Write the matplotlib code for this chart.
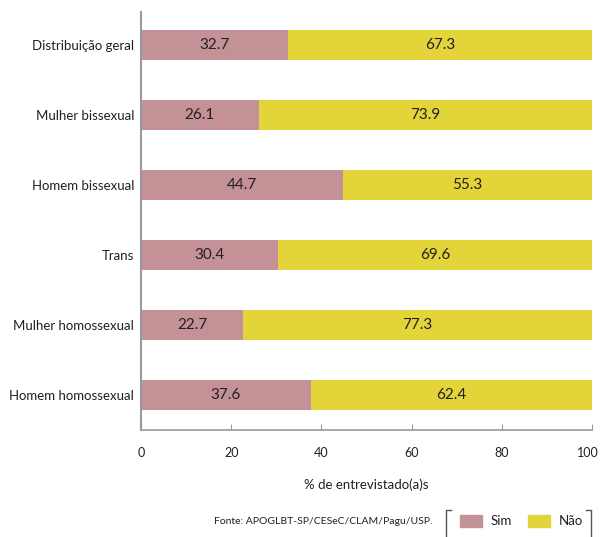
import matplotlib
matplotlib.use("Agg")
import matplotlib.pyplot as plt
import matplotlib.transforms as mtransforms
from matplotlib.patches import Rectangle
from matplotlib.lines import Line2D

plt.rcParams['font.family'] = ['Lato', 'DejaVu Sans']

# data
groups = ["Homem homossexual", "Mulher homossexual", "Trans",
          "Homem bissexual", "Mulher bissexual", "Distribuição geral"]
sim = [37.6, 22.7, 30.4, 44.7, 26.1, 32.7]
nao = [62.4, 77.3, 69.6, 55.3, 73.9, 67.3]
xticks = [0, 20, 40, 60, 80, 100]
legend_labels = ['Sim', 'Não']

c_sim = '#C49196'
c_nao = '#E3D43A'
gray = '#9A9A9A'
txt = '#231F20'

W, H = 601, 537
fig = plt.figure(figsize=(W / 100, H / 100), dpi=100)
ax = fig.add_axes([0.2346, 0.1993, 0.7504, 0.7784])

ypos = range(len(groups))
ax.barh(ypos, sim, height=0.43, color=c_sim)
ax.barh(ypos, nao, left=sim, height=0.43, color=c_nao)

for y, s, n in zip(ypos, sim, nao):
    ax.text(s / 2, y, f"{s:.1f}", ha='center', va='center', fontsize=11, color=txt)
    ax.text(s + n / 2, y, f"{n:.1f}", ha='center', va='center', fontsize=11, color=txt)

ax.set_xlim(0, 100)
ax.set_ylim(-0.5, 5.47)
ax.set_yticks(list(ypos))
ax.set_yticklabels(groups, fontsize=9.5, color=txt)
ax.set_xticks(xticks)
ax.set_xticklabels([str(t) for t in xticks], fontsize=9, color=txt)
ax.tick_params(axis='y', length=0, pad=5)
ax.tick_params(axis='x', direction='in', length=4, color=gray, pad=12)
ax.set_xlabel("% de entrevistado(a)s", fontsize=9.5, color=txt, labelpad=14)

# nudge the last tick label so it stays inside the image
last = ax.get_xticklabels()[-1]
last.set_transform(last.get_transform() +
                   mtransforms.ScaledTranslation(-4 / 100, 0, fig.dpi_scale_trans))

for sp in ['top', 'right']:
    ax.spines[sp].set_visible(False)
ax.spines['left'].set_color(gray)
ax.spines['bottom'].set_color(gray)
ax.spines['left'].set_linewidth(1.5)
ax.spines['bottom'].set_linewidth(1.2)

# source note
fig.text(433 / W, 1 - 522 / H, "Fonte: APOGLBT-SP/CESeC/CLAM/Pagu/USP.",
         ha='right', va='center', fontsize=7.5, color=txt)

# legend drawn by hand, bracket frame
def fl(xs, ys):
    fig.add_artist(Line2D([x / W for x in xs], [1 - y / H for y in ys],
                          color='#555555', lw=1.0, transform=fig.transFigure))
fl([451, 446, 446], [510, 510, 537])
fl([586, 591, 591], [510, 510, 537])

for x0, col, lab in zip([460, 528], [c_sim, c_nao], legend_labels):
    fig.add_artist(Rectangle((x0 / W, 1 - 527 / H), 22 / W, 12 / H,
                             color=col, transform=fig.transFigure))
    fig.text((x0 + 31) / W, 1 - 521 / H, lab, ha='left', va='center',
             fontsize=9.5, color=txt)

fig.savefig("out.png", dpi=100)
